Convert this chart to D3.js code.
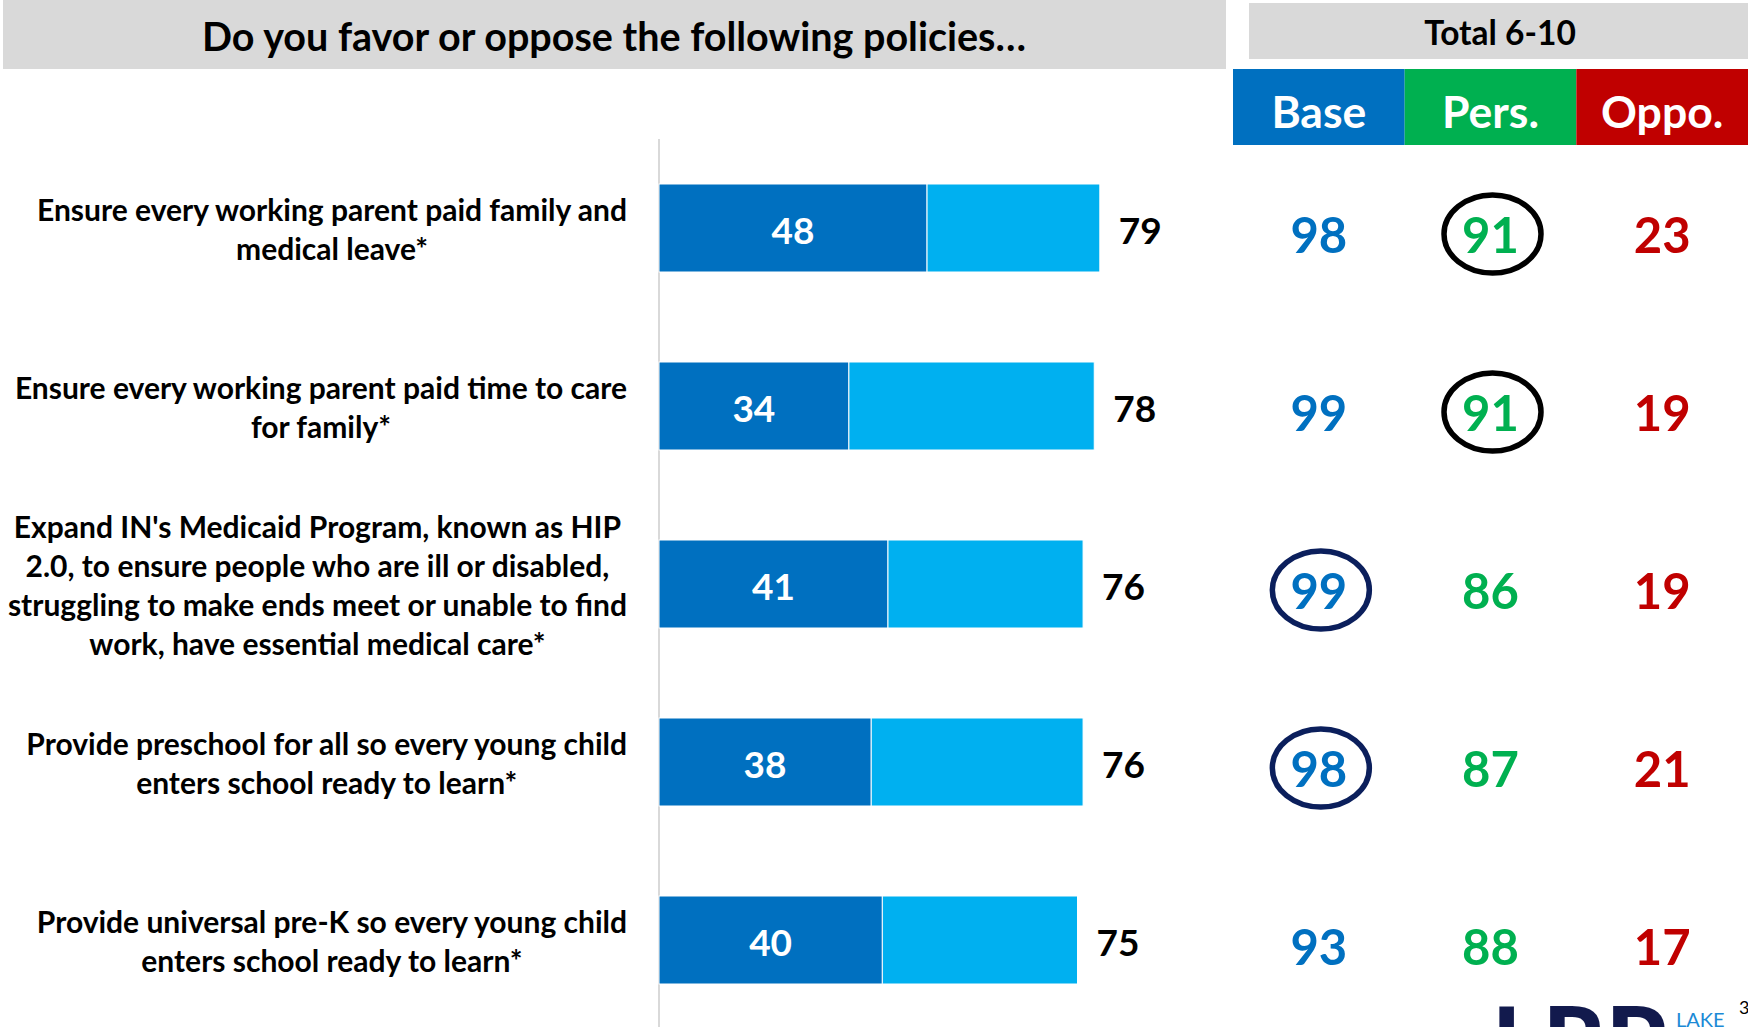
<!DOCTYPE html>
<html>
<head>
<meta charset="utf-8">
<script src="https://cdn.jsdelivr.net/npm/d3@7"></script>
<style>
  html, body { margin: 0; padding: 0; background: #fff; overflow: hidden; }
  svg { display: block; font-family: Lato, "Open Sans", sans-serif; }
</style>
</head>
<body>
<svg id="chart" width="1748" height="1027"></svg>
<script>
// Question wording, one entry per policy, already split into display lines
const policyLines = [
  ["Ensure every working parent paid family and", "medical leave*"],
  ["Ensure every working parent paid time to care", "for family*"],
  ["Expand IN's Medicaid Program, known as HIP", "2.0, to ensure people who are ill or disabled,",
   "struggling to make ends meet or unable to find", "work, have essential medical care*"],
  ["Provide preschool for all so every young child", "enters school ready to learn*"],
  ["Provide universal pre-K so every young child", "enters school ready to learn*"]
];

// Strongly favor (dark segment) and total favor (full bar), percent
const strongFavor = [48, 34, 41, 38, 40];
const totalFavor = [79, 78, 76, 76, 75];

// Total favor (6-10) by target group
const groupNames = ["Base", "Pers.", "Oppo."];
const baseValues = [98, 99, 99, 98, 93];
const persValues = [91, 91, 86, 87, 88];
const oppoValues = [23, 19, 19, 21, 17];

// Highlighted cells: [policy index, group name]
const circledCells = [[0, "Pers."], [1, "Pers."], [2, "Base"], [3, "Base"]];

const titleText = "Do you favor or oppose the following policies…";
const groupHeader = "Total 6-10";

const groupColors = { "Base": "#0070C0", "Pers.": "#00B050", "Oppo.": "#C00000" };
const circleColors = { "Base": "#0B1F5C", "Pers.": "#000000", "Oppo.": "#000000" };
const groupValues = { "Base": baseValues, "Pers.": persValues, "Oppo.": oppoValues };

const svg = d3.select("#chart");

// Scales
const y = d3.scaleBand()
  .domain(d3.range(policyLines.length))
  .range([139, 1029])
  .paddingInner(0.5056)
  .paddingOuter(0.2528);

const x = d3.scaleLinear().domain([0, 100]).range([659, 1217]);

const gx = d3.scaleBand().domain(groupNames).range([1233, 1748]);

// Title banner
svg.append("rect").attr("x", 3).attr("y", 0).attr("width", 1223).attr("height", 69)
  .attr("fill", "#D9D9D9");
svg.append("text").attr("x", 614).attr("y", 35)
  .attr("text-anchor", "middle").attr("dominant-baseline", "central")
  .attr("font-size", 39.5).attr("font-weight", 700).attr("fill", "#000")
  .text(titleText);

// Group header banner
svg.append("rect").attr("x", 1249).attr("y", 3).attr("width", 499).attr("height", 56)
  .attr("fill", "#D9D9D9");
svg.append("text").attr("x", 1500).attr("y", 32)
  .attr("text-anchor", "middle").attr("dominant-baseline", "central")
  .attr("font-size", 33.5).attr("font-weight", 700).attr("fill", "#000")
  .text(groupHeader);

// Coloured group column headers
const heads = svg.append("g").selectAll("g").data(groupNames).join("g");
heads.append("rect")
  .attr("x", d => gx(d)).attr("y", 69)
  .attr("width", gx.bandwidth()).attr("height", 76)
  .attr("fill", d => groupColors[d]);
heads.append("text")
  .attr("x", d => gx(d) + gx.bandwidth() / 2).attr("y", 110)
  .attr("text-anchor", "middle").attr("dominant-baseline", "central")
  .attr("font-size", 44.5).attr("font-weight", 700).attr("fill", "#fff")
  .text(d => d);

// Category axis line
svg.append("line")
  .attr("x1", x(0)).attr("x2", x(0))
  .attr("y1", 139).attr("y2", 1027)
  .attr("stroke", "#D9D9D9").attr("stroke-width", 2);

// Policy labels: each block is centred on itself and right-aligned to the axis gutter
const labelRight = 627;
const lineGap = 39;
policyLines.forEach((lines, i) => {
  const g = svg.append("g");
  const cy = y(i) + y.bandwidth() / 2;
  const texts = g.selectAll("text").data(lines).join("text")
    .attr("y", (d, k) => cy + (k - (lines.length - 1) / 2) * lineGap)
    .attr("text-anchor", "middle").attr("dominant-baseline", "central")
    .attr("font-size", 30).attr("font-weight", 700).attr("fill", "#000")
    .text(d => d);
  let maxW = 0;
  texts.each(function () { maxW = Math.max(maxW, this.getComputedTextLength()); });
  texts.attr("x", labelRight - maxW / 2);
});

// Bars
const rows = svg.append("g").selectAll("g").data(d3.range(policyLines.length)).join("g");

rows.append("rect")
  .attr("x", i => x(strongFavor[i]))
  .attr("y", i => y(i))
  .attr("width", i => x(totalFavor[i]) - x(strongFavor[i]))
  .attr("height", y.bandwidth())
  .attr("fill", "#00B0F0").attr("stroke", "#fff").attr("stroke-width", 1);

rows.append("rect")
  .attr("x", x(0))
  .attr("y", i => y(i))
  .attr("width", i => x(strongFavor[i]) - x(0))
  .attr("height", y.bandwidth())
  .attr("fill", "#0070C0").attr("stroke", "#fff").attr("stroke-width", 1);

rows.append("text")
  .attr("x", i => (x(0) + x(strongFavor[i])) / 2)
  .attr("y", i => y(i) + y.bandwidth() / 2 + 1)
  .attr("text-anchor", "middle").attr("dominant-baseline", "central")
  .attr("font-size", 37).attr("font-weight", 700).attr("fill", "#fff")
  .text(i => strongFavor[i]);

rows.append("text")
  .attr("x", i => x(totalFavor[i]) + 19)
  .attr("y", i => y(i) + y.bandwidth() / 2 + 1)
  .attr("text-anchor", "start").attr("dominant-baseline", "central")
  .attr("font-size", 37).attr("font-weight", 700).attr("fill", "#000")
  .text(i => totalFavor[i]);

// Group values
groupNames.forEach(name => {
  svg.append("g").selectAll("text").data(groupValues[name]).join("text")
    .attr("x", gx(name) + gx.bandwidth() / 2)
    .attr("y", (d, i) => y(i) + y.bandwidth() / 2 + 6)
    .attr("text-anchor", "middle").attr("dominant-baseline", "central")
    .attr("font-size", 49).attr("font-weight", 700).attr("fill", groupColors[name])
    .text(d => d);
});

// Highlight rings
svg.append("g").selectAll("ellipse").data(circledCells).join("ellipse")
  .attr("cx", d => gx(d[1]) + gx.bandwidth() / 2 + 2)
  .attr("cy", d => y(d[0]) + y.bandwidth() / 2 + 6)
  .attr("rx", 48.5).attr("ry", 39)
  .attr("fill", "none")
  .attr("stroke", d => circleColors[d[1]])
  .attr("stroke-width", 5.5);

// Footer logo and page number
svg.append("text").attr("x", 1492).attr("y", 1077)
  .attr("font-size", 97).attr("font-weight", 900).attr("fill", "#121A4D")
  .text("LRP");
svg.append("text").attr("x", 1676).attr("y", 1027)
  .attr("font-size", 20).attr("font-weight", 400).attr("fill", "#1B8AD6")
  .text("LAKE");
svg.append("text").attr("x", 1739).attr("y", 1014)
  .attr("font-size", 18).attr("fill", "#000")
  .text("3");
</script>
</body>
</html>
